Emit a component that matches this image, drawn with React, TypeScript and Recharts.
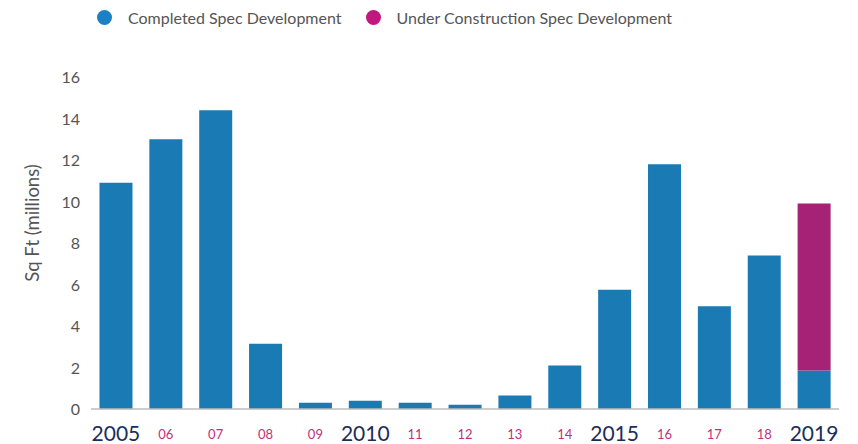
import * as React from "react";
import { Bar, BarChart, Legend, XAxis, YAxis } from "recharts";

const YEARS = ["2005", "06", "07", "08", "09", "2010", "11", "12", "13", "14", "2015", "16", "17", "18", "2019"];
const COMPLETED = [10.9, 13.0, 14.4, 3.15, 0.3, 0.4, 0.3, 0.2, 0.65, 2.1, 5.75, 11.8, 4.95, 7.4, 1.85];
const UNDER_CONSTRUCTION = [0, 0, 0, 0, 0, 0, 0, 0, 0, 0, 0, 0, 0, 0, 8.05];
const Y_TICKS = [0, 2, 4, 6, 8, 10, 12, 14, 16];

const BLUE = "#1a7ab3";
const MAGENTA = "#a52374";
const FONT = "Lato, 'Open Sans', sans-serif";

const data = YEARS.map((y, i) => ({ year: y, done: COMPLETED[i], uc: UNDER_CONSTRUCTION[i] }));

function YearTick({ x, y, payload }: any) {
  const big = payload.value.length === 4;
  return (
    <text
      x={x}
      y={y + (big ? 23.5 : 22)}
      textAnchor="middle"
      fontFamily={FONT}
      fontSize={big ? 21 : 13}
      fill={big ? "#1c2d5a" : "#c2307d"}
    >
      {payload.value}
    </text>
  );
}

function ValueTick({ x, y, payload }: any) {
  return (
    <text x={x + 5} y={y + 6} textAnchor="end" fontFamily={FONT} fontSize={16} fill="#555">
      {payload.value}
    </text>
  );
}

function AxisTitle() {
  return (
    <text
      x={32}
      y={223}
      transform="rotate(-90 32 223)"
      textAnchor="middle"
      dominantBaseline="central"
      fontFamily={FONT}
      fontSize={18.5}
      fill="#555"
    >
      Sq Ft (millions)
    </text>
  );
}

function TopLegend() {
  const items = [
    { name: "Completed Spec Development", color: "#1b80c4" },
    { name: "Under Construction Spec Development", color: "#c0187f" },
  ];
  return (
    <div style={{ display: "flex", gap: 24, fontFamily: FONT, fontSize: 16, color: "#555" }}>
      {items.map((it) => (
        <div key={it.name} style={{ display: "flex", alignItems: "center" }}>
          <span
            style={{ width: 15, height: 15, borderRadius: "50%", background: it.color, marginRight: 16, display: "inline-block" }}
          />
          {it.name}
        </div>
      ))}
    </div>
  );
}

export default function App() {
  return (
    <div style={{ position: "absolute", left: 0, top: 0, width: 858, height: 444, background: "#fff" }}>
      <BarChart
        width={858}
        height={444}
        data={data}
        margin={{ top: 58, right: 19, left: 0, bottom: 5 }}
        barCategoryGap="17%"
      >
        <Legend
          verticalAlign="top"
          content={() => <TopLegend />}
          wrapperStyle={{ position: "absolute", top: 8, left: 97, width: "auto" }}
        />
        <XAxis
          dataKey="year"
          interval={0}
          height={30}
          tickLine={false}
          axisLine={{ stroke: "#bdbdbd", strokeWidth: 1.5 }}
          tick={<YearTick />}
        />
        <YAxis
          width={91}
          domain={[0, 16]}
          ticks={Y_TICKS}
          tickLine={false}
          axisLine={false}
          tick={<ValueTick />}
          tickMargin={10}
          label={{ content: () => <AxisTitle /> }}
        />
        <Bar dataKey="done" stackId="s" fill={BLUE} isAnimationActive={false} />
        <Bar dataKey="uc" stackId="s" fill={MAGENTA} isAnimationActive={false} />
      </BarChart>
    </div>
  );
}
